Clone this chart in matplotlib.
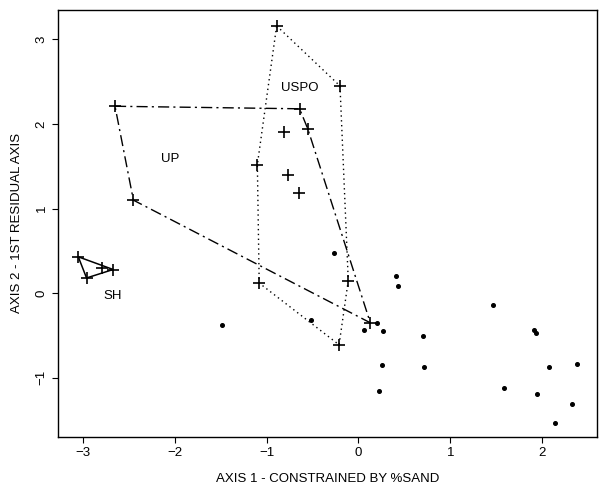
import matplotlib
matplotlib.use('Agg')
import matplotlib.pyplot as plt

plt.rcParams['font.family'] = ['Liberation Sans', 'DejaVu Sans']

# group samples (crosses)
uspo_x = [-0.89, -0.20, -0.11, -0.21, -1.08, -1.10]
uspo_y = [3.16, 2.45, 0.15, -0.61, 0.12, 1.52]
up_x = [-2.65, -0.64, -0.55, 0.13, -2.45]
up_y = [2.21, 2.18, 1.94, -0.35, 1.10]
sh_x = [-3.05, -2.67, -2.96]
sh_y = [0.43, 0.28, 0.18]
inner_x = [-0.81, -0.77, -0.65, -2.79]
inner_y = [1.90, 1.40, 1.18, 0.30]

# other samples (dots)
dot_x = [-0.27, 0.41, 0.43, -1.49, -0.52, 0.20, 0.06, 0.27, 0.70, 0.26, 0.71,
         0.22, 1.47, 1.91, 1.93, 2.08, 2.38, 1.59, 1.95, 2.33, 2.14]
dot_y = [0.48, 0.20, 0.09, -0.38, -0.32, -0.35, -0.44, -0.45, -0.51, -0.85, -0.87,
         -1.16, -0.14, -0.44, -0.47, -0.87, -0.84, -1.12, -1.19, -1.31, -1.53]

labels = ['USPO', 'UP', 'SH']
label_x = [-0.64, -2.05, -2.68]
label_y = [2.43, 1.59, -0.03]

fig = plt.figure(figsize=(6.05, 4.91), dpi=100)
ax = fig.add_axes([0.096, 0.11, 0.891, 0.87])

def closed(xs, ys):
    return xs + [xs[0]], ys + [ys[0]]

cx, cy = closed(uspo_x, uspo_y)
ax.plot(cx, cy, color='black', lw=1, linestyle=(0, (1, 2.5)))
cx, cy = closed(up_x, up_y)
ax.plot(cx, cy, color='black', lw=1, linestyle=(0, (8, 3, 1.5, 3)))
cx, cy = closed(sh_x, sh_y)
ax.plot(cx, cy, color='black', lw=1.1)

for xs, ys in [(uspo_x, uspo_y), (up_x, up_y), (sh_x, sh_y), (inner_x, inner_y)]:
    ax.plot(xs, ys, '+', color='black', ms=8.5, mew=1.2)
ax.plot(dot_x, dot_y, 'o', color='black', ms=2.6)

for t, x, y in zip(labels, label_x, label_y):
    ax.text(x, y, t, ha='center', va='center', fontsize=9.5)

ax.set_xlim(-3.27, 2.60)
ax.set_ylim(-1.70, 3.35)
ax.set_xticks([-3, -2, -1, 0, 1, 2])
ax.set_yticks([-1, 0, 1, 2, 3])
ax.tick_params(direction='out', length=4, labelsize=9.5, width=0.8)
for lab in ax.get_yticklabels():
    lab.set_rotation(90)
    lab.set_va('center')
ax.set_xlabel('AXIS 1 - CONSTRAINED BY %SAND', fontsize=9.5, labelpad=10)
ax.set_ylabel('AXIS 2 - 1ST RESIDUAL AXIS', fontsize=9.5, labelpad=9)
for s in ax.spines.values():
    s.set_linewidth(1)

fig.savefig('out.png', dpi=100)
